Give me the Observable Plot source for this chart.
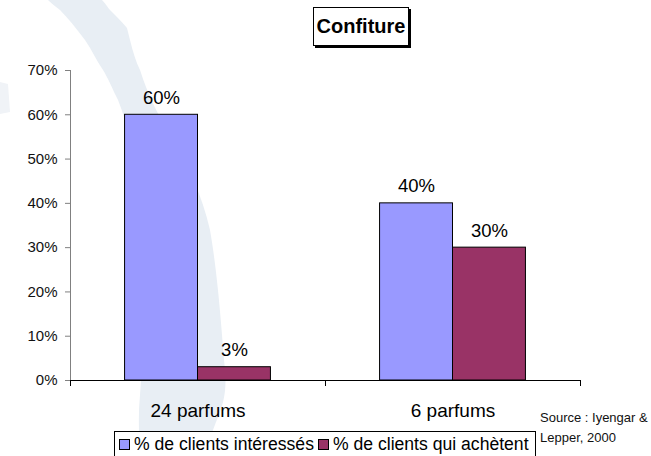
<!DOCTYPE html>
<html>
<head>
<meta charset="utf-8">
<script src="https://cdn.jsdelivr.net/npm/d3@7"></script>
<script src="https://cdn.jsdelivr.net/npm/@observablehq/plot@0.6"></script>
<style>
  body { margin: 0; background: #fff; }
  #chart {
    position: relative; width: 651px; height: 456px; overflow: hidden;
    font-family: "Liberation Sans", Arial, Helvetica, sans-serif; color: #000;
  }
  #chart svg.backdrop { position: absolute; left: 0; top: 0; }
  #plot { position: absolute; left: 0; top: 0; }
  #title {
    position: absolute; left: 313px; top: 7px; width: 94px; height: 37px;
    border: 1px solid #000; background: #fff; box-shadow: 2px 2px 0 #000;
    font-weight: bold; font-size: 20px; line-height: 37px; text-align: center;
  }
  #legend {
    position: absolute; left: 114px; top: 431px; height: 24px;
    border: 1px solid #000; background: #fff;
    display: flex; align-items: center; padding: 0 2px 0 4px;
    font-size: 17.6px; white-space: nowrap;
  }
  #legend .sw { width: 9px; height: 9px; border: 1px solid #000; margin-right: 4px; }
  #legend .item { display: flex; align-items: center; margin-right: 4px; }
  #source {
    position: absolute; left: 540px; top: 408px;
    font-size: 13px; line-height: 20px; color: #111;
  }
</style>
</head>
<body>
<div id="chart">
  <!-- faint decorative swoosh in the slide background -->
  <svg class="backdrop" width="651" height="456">
    <path fill="#e8eef4" d="M48,0 L102,0 C106,4 108,8 110,10 C116,16 122,22 127,28 L130,40
      C133,52 136,62 140,70 C148,95 158,115 170,135 C188,165 202,195 210,230
      C217,270 221,320 224,360 C227,385 226,400 216,422 C210,438 206,448 204,456 L140,456
      C139,435 138,415 140,395 C144,340 144,260 140,200 C136,160 128,125 118,100
      C112,88 108,78 103,70 C96,60 92,50 85,40 C76,28 68,18 60,10 C55,6 51,3 48,0 Z"/>
    <path fill="#f0f3f7" d="M0,82 L8,84 L10,112 L0,114 Z"/>
  </svg>
  <div id="title">Confiture</div>
  <div id="plot"></div>
  <div id="legend"></div>
  <div id="source">Source : Iyengar &amp;<br>Lepper, 2000</div>
</div>
<script>
// Confiture — share of interested vs buying customers by assortment size
const categories = ["24 parfums", "6 parfums"];
const series = ["% de clients intéressés", "% de clients qui achètent"];
const interesses = [0.60, 0.40];
const achetent = [0.03, 0.30];
const yTicks = [0, 0.1, 0.2, 0.3, 0.4, 0.5, 0.6, 0.7];
const colors = ["#9999ff", "#993366"];

const pct = d3.format(".0%");
const barWidth = 0.286; // width of one bar, as a share of a category slot

// One row per bar: the two series sit side by side, centred in their category slot
const rows = categories.flatMap((category, i) => [
  {category, serie: series[0], value: interesses[i], x1: i + 0.5 - barWidth, x2: i + 0.5},
  {category, serie: series[1], value: achetent[i], x1: i + 0.5, x2: i + 0.5 + barWidth}
]);

const chart = Plot.plot({
  width: 651,
  height: 456,
  marginLeft: 70,
  marginRight: 71,
  marginTop: 70,
  marginBottom: 76,
  style: {background: "transparent", fontFamily: '"Liberation Sans", Arial, sans-serif', overflow: "visible"},
  x: {domain: [0, categories.length], axis: null},
  y: {domain: [0, 0.7], axis: null},
  color: {domain: series, range: colors},
  marks: [
    Plot.rectY(rows, {x1: "x1", x2: "x2", y1: 0, y2: "value", fill: "serie", stroke: "#000", strokeWidth: 1}),
    Plot.axisY({ticks: yTicks, tickFormat: pct, tickSize: 5, tickPadding: 8, fontSize: 15, stroke: "#808080", fill: "#111", label: null}),
    Plot.ruleX([0], {stroke: "#808080"}),
    Plot.ruleY([0], {stroke: "#000"}),
    Plot.axisX({ticks: d3.range(categories.length + 1), tickSize: 6, tickFormat: () => "", stroke: "#000", label: null}),
    Plot.axisX({
      ticks: categories.map((c, i) => i + 0.5),
      tickSize: 0,
      tickPadding: 23,
      tickFormat: (t) => categories[Math.floor(t)],
      fontSize: 19,
      fill: "#000",
      label: null
    }),
    Plot.text(rows, {
      x: (d) => (d.x1 + d.x2) / 2,
      y: "value",
      text: (d) => pct(d.value),
      lineAnchor: "bottom",
      dy: -11,
      fontSize: 18.5,
      fill: "#000"
    })
  ]
});
document.getElementById("plot").appendChild(chart);

// Legend built from the same series and colours
const legend = d3.select("#legend");
series.forEach((s, i) => {
  const item = legend.append("span").attr("class", "item");
  item.append("span").attr("class", "sw").style("background", colors[i]);
  item.append("span").text(s);
});
</script>
</body>
</html>
